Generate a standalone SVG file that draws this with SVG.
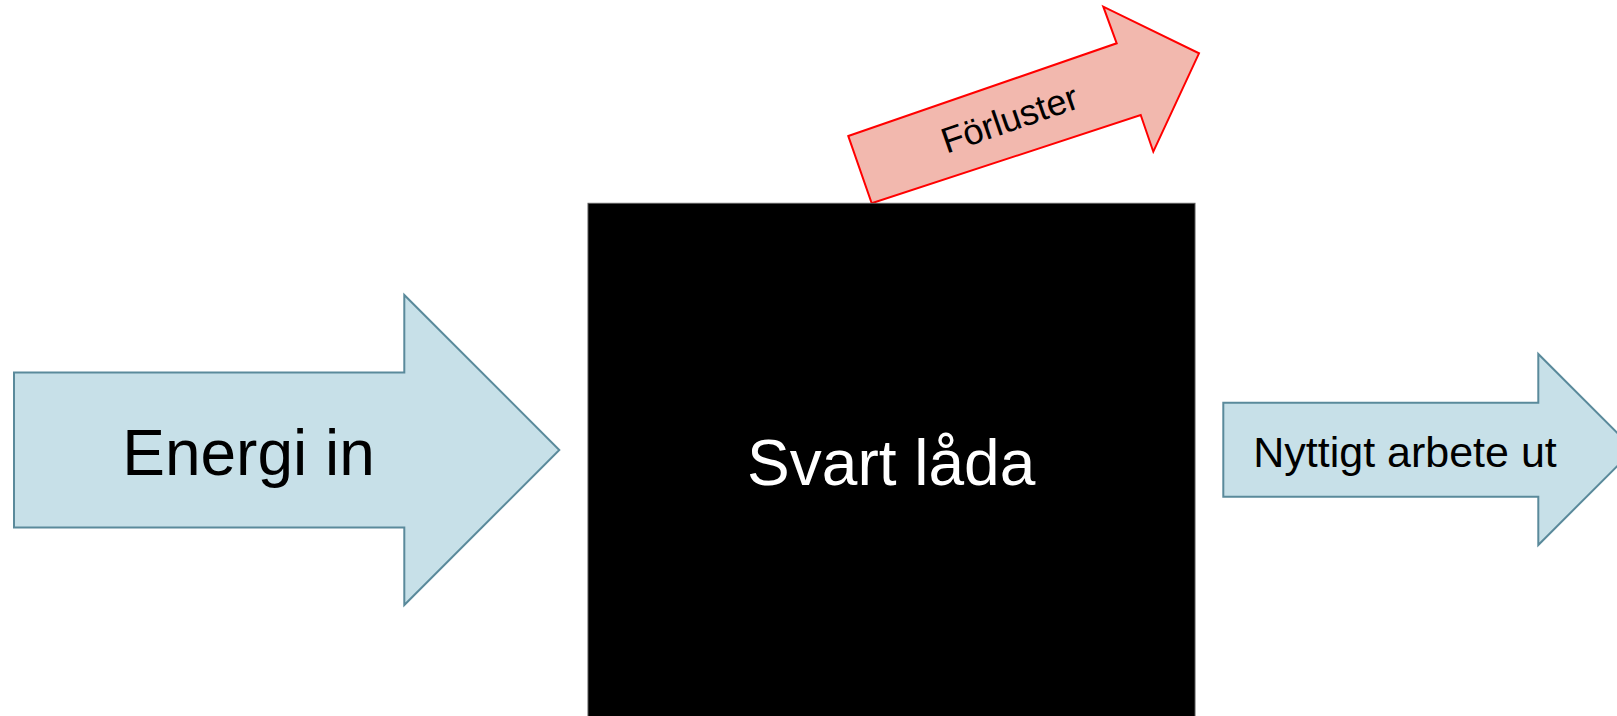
<svg xmlns="http://www.w3.org/2000/svg" width="1617" height="716" viewBox="0 0 1617 716">
<style>
.blue{fill:#c7e0e8;stroke:#5a8a9b;stroke-width:2;stroke-linejoin:miter}
.red{fill:#f2b8ae;stroke:#ff0000;stroke-width:2;stroke-linejoin:miter}
.box{fill:#000000;stroke:#595959;stroke-width:1}
text{font-family:"Liberation Sans",Arial,sans-serif;text-anchor:middle}
</style>
<rect width="1617" height="716" fill="#ffffff"/>
<g id="forluster">
<polygon class="red" points="848.3,136 1116.7,43.3 1103.3,6.7 1199,53.3 1153.3,151.7 1140.7,115 871.7,203.3"/>
<text transform="translate(848.3,136) rotate(-19.1)" x="158" y="49" font-size="36" fill="#000000">Förluster</text>
</g>
<g id="energi-in">
<polygon class="blue" points="14,372.5 404.3,372.5 404.3,295 559.3,450 404.3,605 404.3,527.5 14,527.5"/>
<text x="248.5" y="475" font-size="64" fill="#000000">Energi in</text>
</g>
<g id="svart-lada">
<rect class="box" x="588" y="203.3" width="607" height="530"/>
<text x="891.2" y="485" font-size="64" fill="#ffffff">Svart låda</text>
</g>
<g id="nyttigt-arbete">
<polygon class="blue" points="1223.3,402.7 1538.3,402.7 1538.3,354 1633.8,449.5 1538.3,545 1538.3,496.7 1223.3,496.7"/>
<text x="1405" y="466.7" font-size="43" fill="#000000">Nyttigt arbete ut</text>
</g>
<g id="connectors"></g>
</svg>
